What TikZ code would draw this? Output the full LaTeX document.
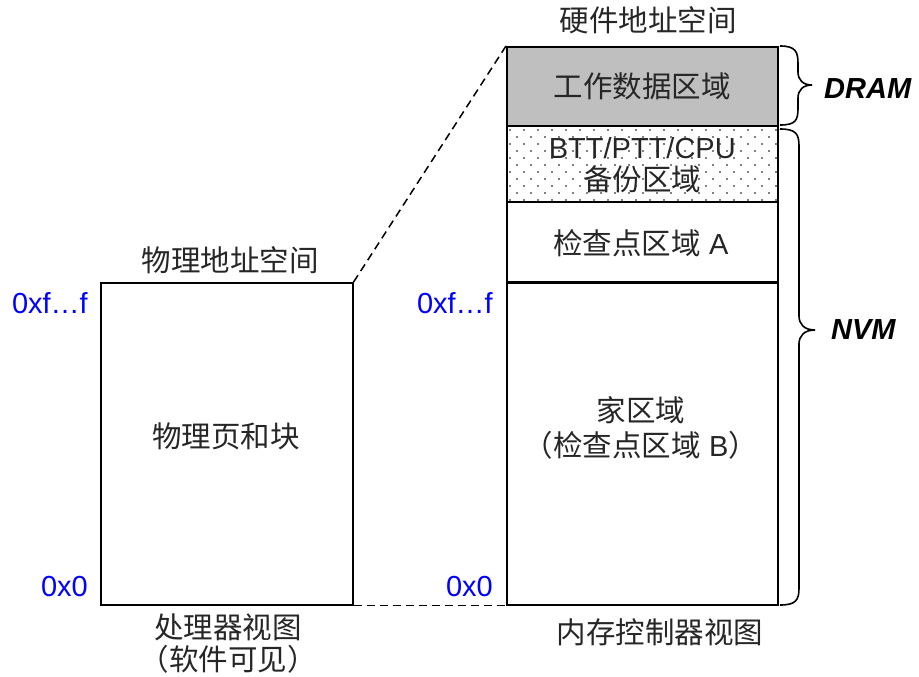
\documentclass[tikz,border=0pt]{standalone}
\usepackage{fontspec}
\setmainfont{Liberation Sans}
\newfontfamily\cjk{Noto Sans CJK SC}
\usetikzlibrary{calc}
\begin{document}
\begin{tikzpicture}[x=1pt,y=-1pt,
  box/.style={draw=black, line width=1.6pt, minimum width=271pt, inner sep=0pt, anchor=north west},
  txt/.style={font=\fontsize{29.5}{32}\selectfont, align=center, inner sep=0pt, text=black!85},
  addr/.style={font=\fontsize{29}{33}\selectfont, text=blue, anchor=east, inner sep=0pt},
  tag/.style={font=\fontsize{29}{33}\selectfont\bfseries\itshape, anchor=west, inner sep=0pt},
  conn/.style={line width=1.5pt, dash pattern=on 8pt off 5pt},
  brc/.style={line width=1.6pt}]
\useasboundingbox (0,0) rectangle (919,677);
% right column
\node[box, fill=gray!50, minimum height=79pt] (dram) at (506,46) {};
\node[box, minimum height=76pt] (bak) at (506,125) {};
\begin{scope}
  \clip (bak.north west) rectangle (bak.south east);
  \foreach \r in {0,...,10}
    \foreach \c in {0,...,19}
      \fill ({510+14*\c+7*mod(\r,2)},{130+7*\r}) circle (0.9pt);
\end{scope}
\node[box, minimum height=76pt] at (506,125) {};
\node[box, minimum height=80pt] (cpa) at (506,201) {};
\node[box, minimum height=322pt] (home) at (506,282) {};
% left box
\node[box, minimum width=252pt, minimum height=322pt] (lpa) at (100,282) {};
% texts
\node[txt] (hwtitle) at (648,20) {\cjk 硬件地址空间};
\node[txt] (t1) at (dram.center) {\cjk 工作数据区域};
\node[txt, font=\fontsize{29}{32}\selectfont] (t2) at ($(bak.center)+(0,1)$) {BTT/PTT/CPU\\{\fontsize{29.5}{32}\selectfont\cjk 备份区域}};
\node[txt] (t3) at (641,243) {{\cjk 检查点区域} {\fontsize{29}{32}\selectfont A}};
\node[txt, font=\fontsize{29.5}{35}\selectfont] (t4) at (641,428) {{\cjk 家区域}\\{\cjk （检查点区域}~{\fontsize{29}{32}\selectfont B}{\cjk ）}};
\node[txt] (pstitle) at (230,260) {\cjk 物理地址空间};
\node[txt] (t5) at (226,436) {\cjk 物理页和块};
\node[txt] (cpuview) at (228,644) {{\cjk 处理器视图}\\{\cjk （软件可见）}};
\node[txt] (mcview) at (660,632) {\cjk 内存控制器视图};
% addresses
\node[addr] (a1) at (88,303) {0xf…f};
\node[addr] (a2) at (88,587) {0x0};
\node[addr] (a3) at (493,303) {0xf…f};
\node[addr] (a4) at (493,587) {0x0};
% connectors
\draw[conn] (lpa.north east) -- (dram.north west);
\draw[conn] (lpa.south east) -- (home.south west);
% braces
\draw[brc] (780,46) .. controls (796,46) and (798,52) .. (798,64) -- (798,72)
  .. controls (798,80) and (803,85) .. (812,85)
  .. controls (803,85) and (798,90) .. (798,98) -- (798,108)
  .. controls (798,120) and (796,125) .. (780,125);
\draw[brc] (780,129) .. controls (796,129) and (799,134) .. (799,146) -- (799,316)
  .. controls (799,324) and (804,330) .. (815,330)
  .. controls (804,330) and (799,336) .. (799,344) -- (799,588)
  .. controls (799,600) and (796,605) .. (780,605);
\node[tag] (dramlbl) at (824,89) {DRAM};
\node[tag] (nvmlbl) at (831,330) {NVM};
\end{tikzpicture}
\end{document}
